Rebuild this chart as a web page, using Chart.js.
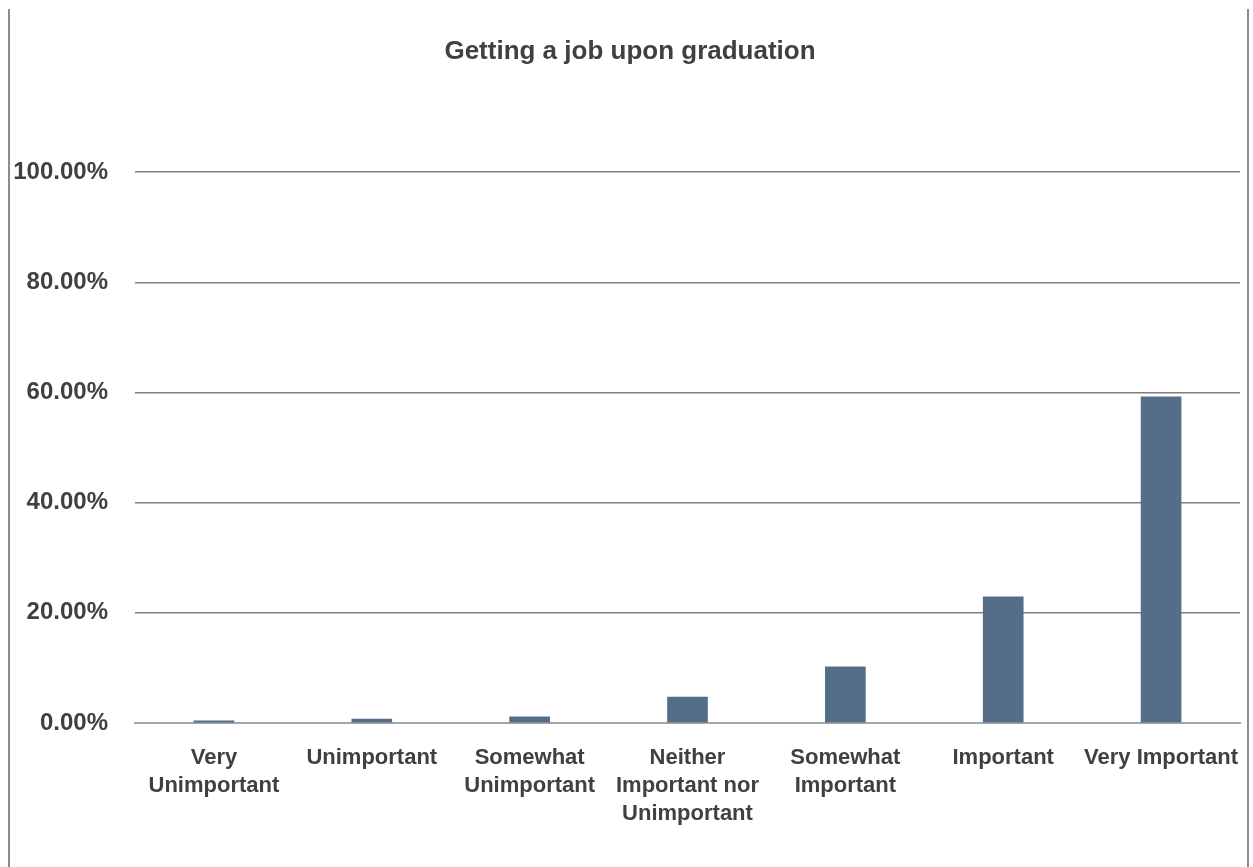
<!DOCTYPE html>
<html>
<head>
<meta charset="utf-8">
<script src="https://cdn.jsdelivr.net/npm/chart.js@4"></script>
<style>
    html, body { margin: 0; padding: 0; background: #fff; }
    #wrap { position: relative; width: 1253px; height: 867px; }
    #frame {
        position: absolute; left: 8px; top: 9px; width: 1237px; height: 858px;
        border-left: 2px solid #8c8c8c; border-right: 2px solid #8c8c8c;
        pointer-events: none;
    }
</style>
</head>
<body>
<div id="wrap">
    <canvas id="chart" width="1253" height="867"></canvas>
    <div id="frame"></div>
</div>
<script>
// 数据
var categories = [
    ['Very', 'Unimportant'],
    'Unimportant',
    ['Somewhat', 'Unimportant'],
    ['Neither', 'Important nor', 'Unimportant'],
    ['Somewhat', 'Important'],
    'Important',
    'Very Important'
];
var shares = [0.004, 0.007, 0.011, 0.047, 0.102, 0.229, 0.592];
var yTicks = [0, 0.2, 0.4, 0.6, 0.8, 1.0];

var fontFamily = '"Liberation Sans", Arial, sans-serif';
var textColor = '#404040';

// 标题稍微右移，与原图居中位置一致
var titleShift = {
    id: 'titleShift',
    afterLayout: function(chart) {
        if (chart.titleBlock) {
            chart.titleBlock.left = 20;
        }
    },
};

var ctx = document.getElementById('chart').getContext('2d');

new Chart(ctx, {
    type: 'bar',
    data: {
        labels: categories,
        datasets: [{
            label: 'Getting a job upon graduation',
            data: shares,
            backgroundColor: '#546e8a',
            borderWidth: 0,
            barThickness: 40,
        }],
    },
    plugins: [titleShift],
    options: {
        responsive: false,
        animation: false,
        layout: {
            padding: { left: 0, right: 13, top: 0, bottom: 0 },
        },
        plugins: {
            legend: { display: false },
            tooltip: { enabled: false },
            title: {
                display: true,
                text: 'Getting a job upon graduation',
                color: textColor,
                font: { family: fontFamily, size: 26, weight: 'bold' },
                padding: { top: 36, bottom: 105 },
            },
        },
        scales: {
            x: {
                grid: { display: false, drawTicks: false },
                border: { display: true, color: '#a6a6a6', width: 2 },
                ticks: {
                    color: textColor,
                    font: { family: fontFamily, size: 22, weight: 'bold', lineHeight: 1.27 },
                    padding: 21,
                    maxRotation: 0,
                    autoSkip: false,
                },
                afterFit: function(scale) {
                    scale.height = 144;
                    scale.paddingLeft = 0;
                    scale.paddingRight = 0;
                },
            },
            y: {
                min: 0,
                max: 1,
                afterBuildTicks: function(scale) {
                    scale.ticks = yTicks.map(function(v) { return { value: v }; });
                },
                grid: { color: '#808080', lineWidth: 1.5, drawTicks: false },
                border: { display: false },
                ticks: {
                    color: textColor,
                    font: { family: fontFamily, size: 24, weight: 'bold' },
                    padding: 27,
                    callback: function(v) { return (v * 100).toFixed(2) + '%'; },
                },
                afterFit: function(scale) { scale.width = 135; },
            },
        },
    },
});
</script>
</body>
</html>
